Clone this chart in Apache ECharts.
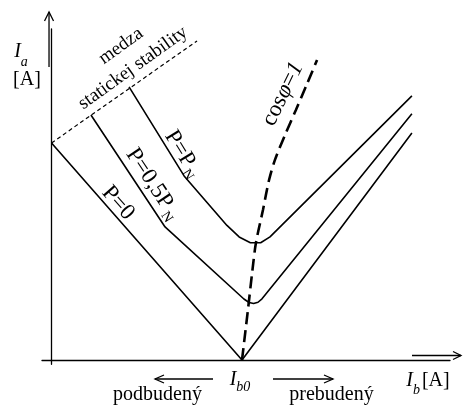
<!DOCTYPE html>
<html>
<head>
<meta charset="utf-8">
<script src="https://cdn.jsdelivr.net/npm/echarts@6/dist/echarts.min.js"></script>
<style>
html, body { margin: 0; padding: 0; background: #fff; }
#chart { width: 463px; height: 406px; }
</style>
</head>
<body>
<div id="chart"></div>
<script>
// V-curves of a synchronous machine: armature current Ia versus excitation current Ib,
// with Ib expressed relative to Ib0 (the excitation at cos(phi) = 1 for P = 0).

// P = 0 : straight V with its tip at Ib0
const curveP0 = [[0.000, 1.000], [1.000, 0.000], [1.892, 1.046]];
// P = 0,5 PN
const curveHalf = [
  [0.207, 1.129], [0.596, 0.613], [1.010, 0.281], [1.037, 0.265],
  [1.061, 0.260], [1.084, 0.266], [1.105, 0.282], [1.892, 1.134]
];
// P = PN
const curveFull = [
  [0.407, 1.258], [0.696, 0.848], [0.921, 0.620], [0.985, 0.567],
  [1.044, 0.540], [1.098, 0.540], [1.147, 0.567], [1.892, 1.217]
];
// locus of cos(phi) = 1 through the minima
const unityPF = [
  [1.000, 0.000], [1.031, 0.230], [1.055, 0.415], [1.073, 0.539],
  [1.110, 0.691], [1.142, 0.829], [1.173, 0.922], [1.226, 1.037],
  [1.283, 1.152], [1.339, 1.267], [1.394, 1.382]
];
// static stability limit
const stabilityLimit = [[0.000, 1.000], [0.764, 1.470]];

const FONT = '"Liberation Serif", "Times New Roman", serif';
const chart = echarts.init(document.getElementById('chart'), null, { renderer: 'canvas' });

const solid = { color: '#000', width: 1.6 };

chart.setOption({
  animation: false,
  backgroundColor: '#fff',
  grid: { left: 42, right: 13, top: 29, bottom: 41.66 },
  xAxis: {
    type: 'value', min: -0.05, max: 2.092,
    axisLine: { show: true, onZero: true, lineStyle: { color: '#000', width: 1.3 } },
    axisTick: { show: false }, axisLabel: { show: false }, splitLine: { show: false }
  },
  yAxis: {
    type: 'value', min: -0.02, max: 1.525,
    axisLine: { show: true, onZero: true, lineStyle: { color: '#000', width: 1.3 } },
    axisTick: { show: false }, axisLabel: { show: false }, splitLine: { show: false }
  },
  series: [
    { name: 'P=0', type: 'line', data: curveP0, showSymbol: false, lineStyle: solid, z: 3 },
    { name: 'P=0,5PN', type: 'line', data: curveHalf, showSymbol: false, lineStyle: solid, z: 3 },
    { name: 'P=PN', type: 'line', data: curveFull, showSymbol: false, lineStyle: solid, z: 3 },
    { name: 'cos phi = 1', type: 'line', data: unityPF, smooth: 0.3, showSymbol: false,
      lineStyle: { color: '#000', width: 2.6, type: [12, 6] }, z: 4 },
    { name: 'stability', type: 'line', data: stabilityLimit, showSymbol: false,
      lineStyle: { color: '#000', width: 1.2, type: [4, 3] }, z: 2 }
  ]
});

// text measuring for composite labels (main text + subscript)
const mctx = document.createElement('canvas').getContext('2d');
function textWidth(t, size, italic) {
  mctx.font = (italic ? 'italic ' : '') + size + 'px ' + FONT;
  return mctx.measureText(t).width;
}

// a rotated label made of several runs; (cx, cy) is the centre of the run line
function label(parts, cx, cy, deg) {
  const total = parts.reduce((s, p) => s + textWidth(p.t, p.size, p.italic) + (p.gap || 0), 0);
  let x = -total / 2;
  const children = parts.map(p => {
    x += (p.gap || 0);
    const el = {
      type: 'text', x: x, y: p.dy || 0,
      style: {
        text: p.t, fill: '#000', font: (p.italic ? 'italic ' : '') + p.size + 'px ' + FONT,
        textAlign: 'left', textVerticalAlign: 'middle'
      }
    };
    x += textWidth(p.t, p.size, p.italic);
    return el;
  });
  return { type: 'group', x: cx, y: cy, rotation: deg * Math.PI / 180, children: children, z: 10 };
}

function openArrow(x1, y1, x2, y2, len, spread) {
  // line from (x1,y1) to the head at (x2,y2) with an open chevron
  const a = Math.atan2(y2 - y1, x2 - x1);
  const w1 = [x2 - len * Math.cos(a) + spread * Math.sin(a), y2 - len * Math.sin(a) - spread * Math.cos(a)];
  const w2 = [x2 - len * Math.cos(a) - spread * Math.sin(a), y2 - len * Math.sin(a) + spread * Math.cos(a)];
  const st = { stroke: '#000', lineWidth: 1.3, fill: null };
  return [
    { type: 'polyline', shape: { points: [[x1, y1], [x2, y2]] }, style: st, z: 10 },
    { type: 'polyline', shape: { points: [w1, [x2, y2], w2] }, style: st, z: 10 }
  ];
}

const origin = chart.convertToPixel({ gridIndex: 0 }, [0, 0]);
const ax = origin[0], ay = origin[1];

const graphics = [].concat(
  // axis arrow heads
  openArrow(ax - 2.5, 67, ax - 2.5, 12, 9, 4.5),
  openArrow(412, ay - 4.5, 461, ay - 4.5, 8, 4),
  // under / over excitation arrows
  openArrow(213, 379, 155, 379, 9, 4),
  openArrow(273, 379, 333, 379, 9, 4),
  [
    label([{ t: 'I', size: 20, italic: true }, { t: 'a', size: 14, italic: true, dy: 10 }], 21, 52, 0),
    label([{ t: '[A]', size: 20 }], 27, 80, 0),
    label([{ t: 'medza', size: 19 }], 121, 46, 35.6),
    label([{ t: 'statickej stability', size: 19 }], 133, 68, 35.6),
    label([{ t: 'P=P', size: 23 }, { t: 'N', size: 14, dy: 7, gap: 2 }], 183, 154, -58.5),
    label([{ t: 'P=0,5P', size: 23 }, { t: 'N', size: 14, dy: 7, gap: 3 }], 153, 184, -56.5),
    label([{ t: 'P=0', size: 23 }], 118, 203, -48.7),
    label([{ t: 'cos', size: 23 }, { t: 'φ', size: 23, italic: true }, { t: '=', size: 23 },
           { t: '1', size: 23, italic: true }], 283, 94, 64),
    label([{ t: 'podbudený', size: 20 }], 157.5, 395, 0),
    label([{ t: 'prebudený', size: 20 }], 331.5, 395, 0),
    label([{ t: 'I', size: 20, italic: true }, { t: 'b0', size: 14, italic: true, dy: 7 }], 240, 380, 0),
    label([{ t: 'I', size: 20, italic: true }, { t: 'b', size: 14, italic: true, dy: 9 },
           { t: '[A]', size: 20, gap: 2 }], 428, 381, 0)
  ]
);

chart.setOption({ graphic: { elements: graphics } });
</script>
</body>
</html>
